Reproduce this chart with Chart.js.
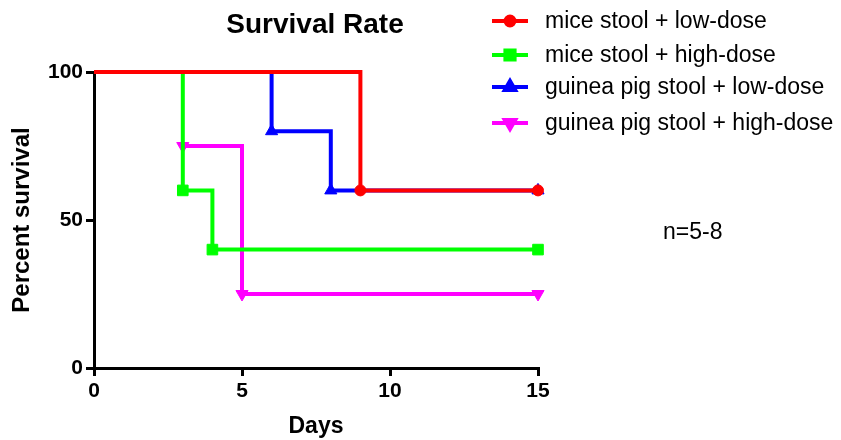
<!DOCTYPE html>
<html>
<head>
<meta charset="utf-8">
<script src="https://cdn.jsdelivr.net/npm/chart.js@4/dist/chart.umd.min.js"></script>
<style>
  html, body { margin: 0; padding: 0; background: #fff; }
  #wrap { width: 841px; height: 440px; }
</style>
</head>
<body>
<div id="wrap"><canvas id="survival" width="841" height="440"></canvas></div>
<script>
// 데이터 (Kaplan-Meier 계단형)
const seriesLabels = [
    "mice stool + low-dose",
    "mice stool + high-dose",
    "guinea pig stool + low-dose",
    "guinea pig stool + high-dose"
];
const miceLowDays = [0, 9, 15];
const miceLowSurv = [100, 60, 60];
const miceHighDays = [0, 3, 4, 15];
const miceHighSurv = [100, 60, 40, 40];
const pigLowDays = [0, 6, 8, 15];
const pigLowSurv = [100, 80, 60, 60];
const pigHighDays = [3, 5, 15];
const pigHighSurv = [75, 25, 25];
const xTicks = [0, 5, 10, 15];
const yTicks = [0, 50, 100];
const noteText = "n=5-8";

function toPoints(xs, ys) {
    return xs.map((x, i) => ({ x: x, y: ys[i] }));
}

const FONT = "'Liberation Sans', Arial, sans-serif";
const colors = ["#ff0000", "#00ff00", "#0000ff", "#ff00ff"];
const styles = [
    { style: "circle", radius: 5.5, rotation: 0 },
    { style: "rect", radius: 7.5, rotation: 0 },
    { style: "triangle", radius: 7, rotation: 0 },
    { style: "triangle", radius: 7, rotation: 180 }
];
const allDays = [miceLowDays, miceHighDays, pigLowDays, pigHighDays];
const allSurv = [miceLowSurv, miceHighSurv, pigLowSurv, pigHighSurv];

const datasets = seriesLabels.map((label, i) => ({
    label: label,
    data: toPoints(allDays[i], allSurv[i]),
    stepped: true,
    clip: false,
    borderColor: colors[i],
    backgroundColor: colors[i],
    borderWidth: 4,
    pointStyle: styles[i].style,
    pointRotation: styles[i].rotation,
    // 시작점(x=0)에는 마커 없음
    pointRadius: ctx => (ctx.raw && ctx.raw.x === 0) ? 0 : styles[i].radius,
    pointBorderWidth: 1,
    pointHoverRadius: 0,
    fill: false
}));

// 제목, 범례, n 표시를 직접 그림
const extras = {
    id: "extras",
    afterDraw(chart) {
        const ctx = chart.ctx;
        const area = chart.chartArea;
        ctx.save();
        ctx.fillStyle = "#000";
        ctx.font = "bold 28px " + FONT;
        ctx.textAlign = "center";
        ctx.textBaseline = "alphabetic";
        ctx.fillText("Survival Rate", (area.left + area.right) / 2 - 1, 33);

        const rows = [21, 55, 87, 123];
        ctx.font = "23px " + FONT;
        ctx.textAlign = "left";
        ctx.textBaseline = "middle";
        seriesLabels.forEach((label, i) => {
            const y = rows[i];
            ctx.strokeStyle = colors[i];
            ctx.fillStyle = colors[i];
            ctx.lineWidth = 4;
            ctx.beginPath();
            ctx.moveTo(492, y);
            ctx.lineTo(528, y);
            ctx.stroke();
            Chart.helpers.drawPoint(ctx, {
                pointStyle: styles[i].style,
                rotation: styles[i].rotation,
                radius: styles[i].radius - 1,
                borderWidth: 1
            }, 510, y);
            ctx.fillStyle = "#000";
            ctx.fillText(label, 545, y + 1);
        });

        ctx.font = "23px " + FONT;
        ctx.textBaseline = "alphabetic";
        ctx.fillText(noteText, 663, 239);
        ctx.restore();
    }
};

const survCtx = document.getElementById("survival").getContext("2d");
const survChart = new Chart(survCtx, {
    type: "line",
    data: { datasets: datasets },
    options: {
        responsive: false,
        animation: false,
        layout: { padding: { left: 0, top: 72, right: 303, bottom: 0 } },
        plugins: {
            legend: { display: false },
            title: { display: false },
            tooltip: { enabled: false }
        },
        scales: {
            x: {
                type: "linear",
                min: 0,
                max: 15,
                afterFit: s => { s.height = 72; },
                afterBuildTicks: s => { s.ticks = xTicks.map(v => ({ value: v })); },
                border: { display: true, color: "#000", width: 3 },
                grid: { display: true, drawOnChartArea: false, drawTicks: true, tickLength: 8, color: "#000", lineWidth: 3 },
                ticks: { color: "#000", padding: 3, maxRotation: 0, font: { family: FONT, size: 21, weight: "bold" } },
                title: { display: true, text: "Days", color: "#000", padding: { top: 0, bottom: 0 }, font: { family: FONT, size: 23, weight: "bold" } }
            },
            y: {
                min: 0,
                max: 100,
                afterFit: s => { s.width = 94; },
                afterBuildTicks: s => { s.ticks = yTicks.map(v => ({ value: v })); },
                border: { display: true, color: "#000", width: 3 },
                grid: { display: true, drawOnChartArea: false, drawTicks: true, tickLength: 8, color: "#000", lineWidth: 3 },
                ticks: { color: "#000", padding: 3, font: { family: FONT, size: 21, weight: "bold" } },
                title: { display: true, text: "Percent survival", color: "#000", padding: { top: 8, bottom: 0 }, font: { family: FONT, size: 24, weight: "bold" } }
            }
        }
    },
    plugins: [extras]
});
</script>
</body>
</html>
